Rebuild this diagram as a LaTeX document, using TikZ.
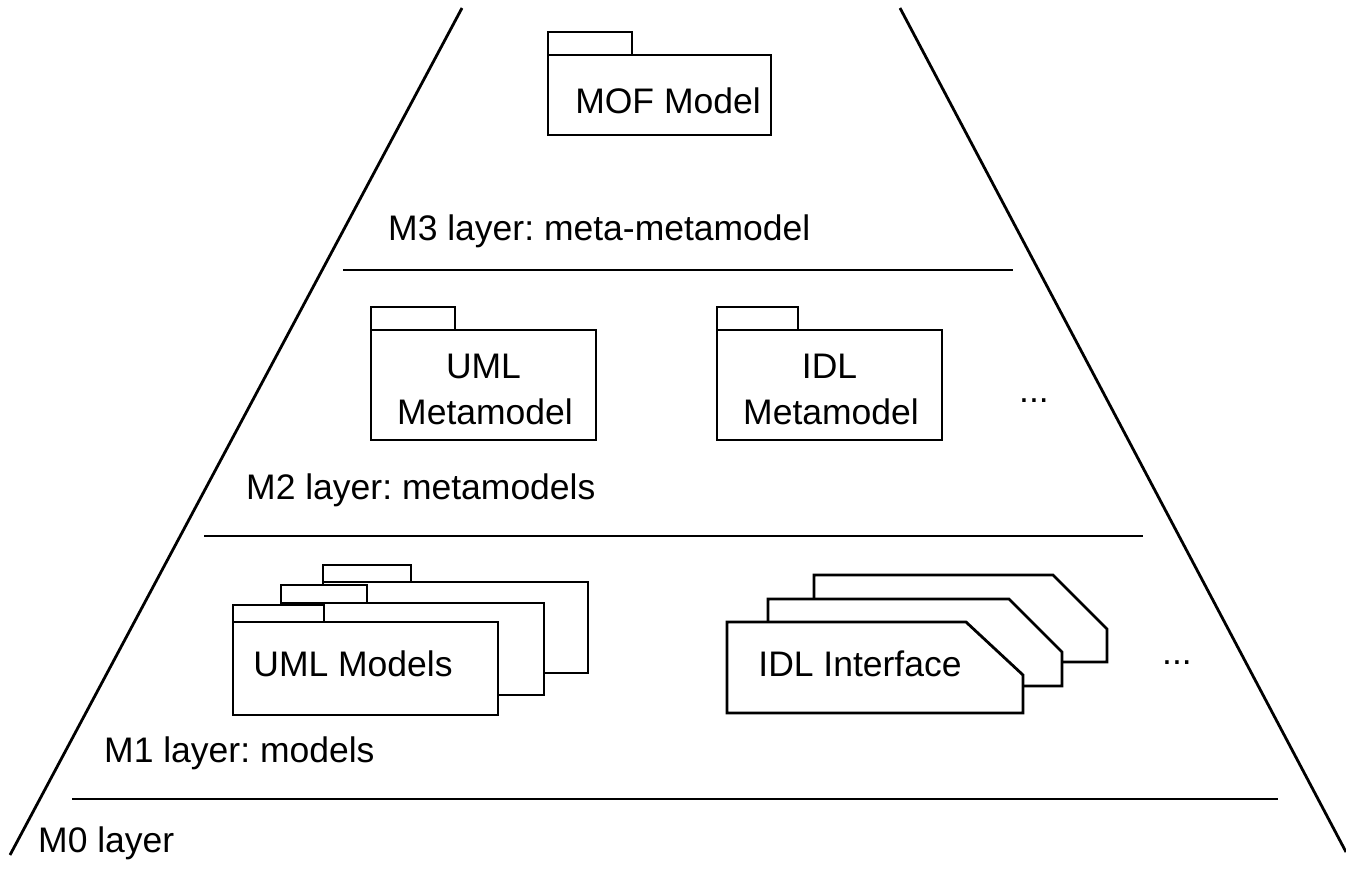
\documentclass[tikz,border=0pt]{standalone}
\usepackage{fontspec}
\setmainfont{Liberation Sans}
\begin{document}
\frenchspacing
\begin{tikzpicture}[x=1pt,y=-1pt,
  ln/.style={line width=2.8pt,black},
  pkg/.style={ln,fill=white,line join=miter},
  lbl/.style={font=\fontsize{35.5}{42}\selectfont,inner sep=0pt},
  ctr/.style={lbl,anchor=base,align=center}]
\useasboundingbox (0,0) rectangle (1346,874);

% pyramid sides
\draw[ln] (462,8) -- (10,855);
\draw[ln] (900,8) -- (1346,852);

% layer separators
\draw[ln] (343,270) -- (1013,270);
\draw[ln] (204,536) -- (1143,536);
\draw[ln] (72,799) -- (1278,799);

% M3: MOF model package
\draw[pkg] (548,32) rectangle (632,55);
\draw[pkg] (548,55) rectangle (771,135);
\node[ctr] (mof) at (668,114) {MOF Model};
\node[lbl,anchor=base west] (m3) at (388,241) {M3 layer: meta-metamodel};

% M2: metamodel packages
\draw[pkg] (371,307) rectangle (455,330);
\draw[pkg] (371,330) rectangle (596,440);
\node[ctr] (umlmm) at (483.5,378) {UML};
\node[ctr] (umlmm2) at (485,424) {Metamodel};
\draw[pkg] (717,307) rectangle (798,330);
\draw[pkg] (717,330) rectangle (942,440);
\node[ctr] (idlmm) at (829.5,378) {IDL};
\node[ctr] (idlmm2) at (831,424) {Metamodel};
\node[ctr] (dots2) at (1034,402) {...};
\node[lbl,anchor=base west] (m2) at (246,499) {M2 layer: metamodels};

% M1: stacked UML model packages (back to front)
\draw[pkg] (323,565) rectangle (411,582);
\draw[pkg] (323,582) rectangle (588,673);
\draw[pkg] (281,585) rectangle (367,603);
\draw[pkg] (281,603) rectangle (544,695);
\draw[pkg] (233,605) rectangle (324,622);
\draw[pkg] (233,622) rectangle (498,715);
\node[ctr] (umlm) at (353,676) {UML Models};

% M1: stacked IDL interface cards (back to front)
\draw[pkg] (814,662) -- (814,575) -- (1053,575) -- (1107,629) -- (1107,662) -- cycle;
\draw[pkg] (768,686) -- (768,599) -- (1009,599) -- (1062,652) -- (1062,686) -- cycle;
\draw[pkg] (727,713) -- (727,622) -- (966,622) -- (1023,675) -- (1023,713) -- cycle;
\node[ctr] (idli) at (860,676) {IDL Interface};
\node[ctr] (dots1) at (1177,664) {...};
\node[lbl,anchor=base west] (m1) at (104,762) {M1 layer: models};

% M0
\node[lbl,anchor=base west] (m0) at (38,852) {M0 layer};
\end{tikzpicture}
\end{document}
